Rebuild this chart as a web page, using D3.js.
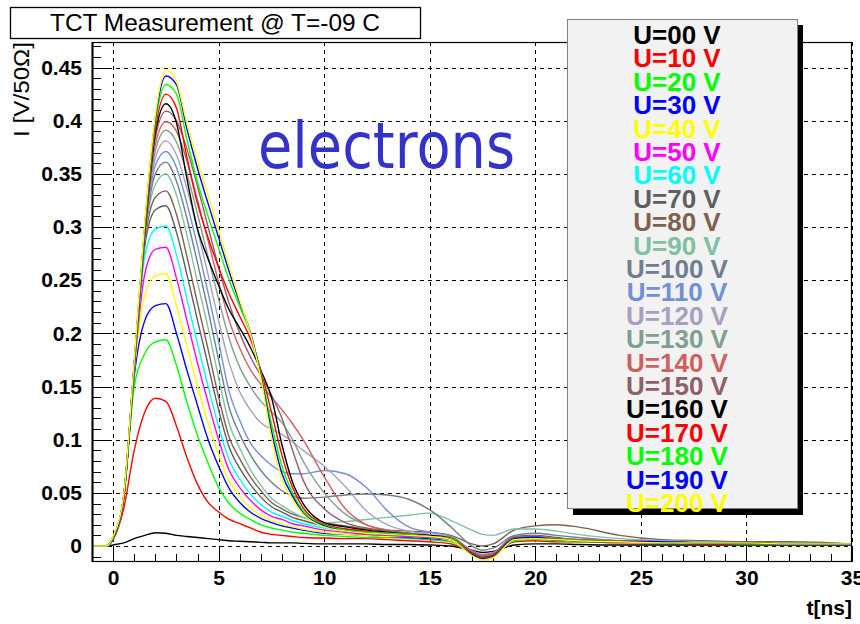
<!DOCTYPE html>
<html>
<head>
<meta charset="utf-8">
<script src="https://d3js.org/d3.v7.min.js"></script>
<style>
    body { margin: 0; background: #ffffff; }
    #tct-svg .font { font-family: "Liberation Sans", Arial, sans-serif; }
    #tct-svg .grid line { stroke: #000000; stroke-width: 1; stroke-dasharray: 4,4; shape-rendering: crispEdges; }
    #tct-svg .axis path { display: none; }
    #tct-svg .axis line { stroke: #000000; stroke-width: 1; shape-rendering: crispEdges; }
    #tct-svg .axis text { font-family: "Liberation Sans", Arial, sans-serif; font-size: 21px; font-weight: bold; fill: #000000; }
    #tct-svg .legend-label { font-size: 26px; font-weight: bold; }
    #tct-svg .trace { fill: none; stroke-width: 1.4; }
</style>
</head>
<body>
<script>
const SVG_WIDTH = 860;
const SVG_HEIGHT = 624;
const PLOT_LEFT = 92, PLOT_RIGHT = 852, PLOT_TOP = 42, PLOT_BOTTOM = 562;

const TITLE_TXT = "TCT Measurement @ T=-09 C";
const Y_LABEL_TXT = "I [V/50\u03A9]";
const X_LABEL_TXT = "t[ns]";
const NOTE_TXT = "electrons";

const X_TICKS = [0, 5, 10, 15, 20, 25, 30, 35];
const Y_TICKS = [0, 0.05, 0.1, 0.15, 0.2, 0.25, 0.3, 0.35, 0.4, 0.45];

// time axis of the traces (ns)
const T_NS = [-1, -0.3, 0, 0.5, 1, 1.5, 2, 2.5, 3, 3.5,
              4, 4.5, 5, 5.5, 6, 6.5, 7, 7.5, 8, 8.5,
              9, 10, 11, 12, 13, 14, 15, 16, 17, 17.5,
              18, 19, 20, 21, 22, 24, 26, 28, 30, 32,
              35];

// current I [V/50 Ohm] per bias voltage
const I_U000 = [0, 0, 0.001, 0.003, 0.007, 0.010, 0.0125, 0.012, 0.010, 0.009,
    0.008, 0.007, 0.006, 0.005, 0.0045, 0.004, 0.0035, 0.003, 0.003, 0.003,
    0.0025, 0.002, 0.002, 0.002, 0.0015, 0.0015, 0.001, 0.0, -0.004, -0.006,
    -0.005, 0.001, 0.002, 0.002, 0.0015, 0.001, 0.001, 0.001, 0.001, 0.001, 0.001];
const I_U010 = [0, 0, 0.006, 0.035, 0.09, 0.126, 0.139, 0.136, 0.113, 0.083,
    0.058, 0.041, 0.032, 0.025, 0.021, 0.017, 0.013, 0.011, 0.010, 0.009,
    0.008, 0.0075, 0.007, 0.007, 0.006, 0.005, 0.004, 0.002, -0.006, -0.009,
    -0.007, 0.004, 0.005, 0.004, 0.004, 0.003, 0.003, 0.002, 0.002, 0.002, 0.002];
const I_U020 = [0, 0, 0.007, 0.044, 0.15, 0.181, 0.192, 0.194, 0.170, 0.135,
    0.104, 0.078, 0.055, 0.040, 0.031, 0.025, 0.020, 0.017, 0.015, 0.013,
    0.012, 0.010, 0.009, 0.008, 0.008, 0.007, 0.006, 0.004, -0.006, -0.010,
    -0.008, 0.005, 0.006, 0.005, 0.004, 0.004, 0.003, 0.003, 0.002, 0.002, 0.002];
const I_U030 = [0, 0, 0.008, 0.045, 0.16, 0.212, 0.226, 0.228, 0.200, 0.165,
    0.132, 0.100, 0.075, 0.054, 0.041, 0.032, 0.026, 0.022, 0.019, 0.017,
    0.015, 0.012, 0.011, 0.010, 0.009, 0.008, 0.007, 0.005, -0.006, -0.010,
    -0.008, 0.006, 0.007, 0.006, 0.005, 0.004, 0.003, 0.003, 0.003, 0.002, 0.002];
const I_U040 = [0, 0, 0.008, 0.046, 0.165, 0.236, 0.254, 0.256, 0.226, 0.188,
    0.150, 0.116, 0.086, 0.061, 0.047, 0.036, 0.029, 0.024, 0.021, 0.018,
    0.016, 0.013, 0.011, 0.010, 0.009, 0.009, 0.008, 0.005, -0.007, -0.011,
    -0.009, 0.006, 0.007, 0.006, 0.005, 0.004, 0.004, 0.003, 0.003, 0.002, 0.002];
const I_U050 = [0, 0, 0.008, 0.046, 0.168, 0.256, 0.279, 0.281, 0.252, 0.212,
    0.172, 0.135, 0.100, 0.071, 0.055, 0.043, 0.034, 0.028, 0.025, 0.021,
    0.019, 0.015, 0.013, 0.011, 0.010, 0.009, 0.008, 0.006, -0.006, -0.010,
    -0.008, 0.007, 0.008, 0.006, 0.005, 0.004, 0.004, 0.003, 0.003, 0.002, 0.002];
const I_U060 = [0, 0, 0.008, 0.046, 0.17, 0.272, 0.298, 0.301, 0.274, 0.232,
    0.190, 0.150, 0.112, 0.081, 0.063, 0.049, 0.039, 0.032, 0.028, 0.024,
    0.021, 0.017, 0.014, 0.012, 0.011, 0.010, 0.009, 0.006, -0.006, -0.010,
    -0.008, 0.007, 0.008, 0.007, 0.006, 0.005, 0.004, 0.003, 0.003, 0.003, 0.002];
const I_U070 = [0, 0, 0.008, 0.046, 0.17, 0.282, 0.316, 0.320, 0.295, 0.255,
    0.212, 0.170, 0.128, 0.093, 0.073, 0.058, 0.046, 0.037, 0.032, 0.027,
    0.024, 0.019, 0.016, 0.014, 0.012, 0.011, 0.010, 0.007, -0.005, -0.009,
    -0.007, 0.009, 0.010, 0.008, 0.006, 0.005, 0.004, 0.004, 0.003, 0.003, 0.002];
const I_U080 = [0, 0, 0.008, 0.046, 0.17, 0.286, 0.328, 0.334, 0.312, 0.272,
    0.228, 0.185, 0.140, 0.102, 0.082, 0.065, 0.052, 0.041, 0.035, 0.030,
    0.027, 0.022, 0.019, 0.016, 0.015, 0.014, 0.013, 0.010, 0.002, 0.000,
    0.002, 0.015, 0.019, 0.020, 0.018, 0.010, 0.006, 0.005, 0.004, 0.004, 0.002];
const I_U090 = [0, 0, 0.008, 0.046, 0.17, 0.29, 0.340, 0.350, 0.330, 0.292,
    0.248, 0.205, 0.158, 0.115, 0.092, 0.072, 0.057, 0.045, 0.038, 0.032,
    0.027, 0.022, 0.023, 0.025, 0.027, 0.029, 0.031, 0.024, 0.015, 0.011,
    0.010, 0.016, 0.016, 0.014, 0.011, 0.007, 0.005, 0.004, 0.003, 0.003, 0.002];
const I_U100 = [0, 0, 0.008, 0.046, 0.17, 0.29, 0.350, 0.361, 0.343, 0.308,
    0.266, 0.222, 0.175, 0.130, 0.105, 0.086, 0.071, 0.060, 0.052, 0.047,
    0.045, 0.046, 0.048, 0.049, 0.048, 0.044, 0.034, 0.018, 0.000, -0.004,
    -0.002, 0.010, 0.012, 0.010, 0.008, 0.005, 0.004, 0.003, 0.003, 0.002, 0.002];
const I_U110 = [0, 0, 0.008, 0.046, 0.17, 0.29, 0.358, 0.371, 0.356, 0.322,
    0.282, 0.238, 0.192, 0.145, 0.118, 0.097, 0.085, 0.076, 0.070, 0.068,
    0.068, 0.071, 0.068, 0.055, 0.033, 0.018, 0.013, 0.009, -0.004, -0.008,
    -0.006, 0.008, 0.009, 0.007, 0.006, 0.005, 0.004, 0.003, 0.003, 0.002, 0.002];
const I_U120 = [0, 0, 0.008, 0.046, 0.17, 0.29, 0.365, 0.381, 0.368, 0.336,
    0.297, 0.255, 0.212, 0.172, 0.145, 0.128, 0.116, 0.110, 0.105, 0.098,
    0.090, 0.075, 0.056, 0.033, 0.020, 0.014, 0.011, 0.008, -0.005, -0.009,
    -0.007, 0.008, 0.009, 0.007, 0.006, 0.005, 0.004, 0.003, 0.003, 0.002, 0.002];
const I_U130 = [0, 0, 0.008, 0.046, 0.17, 0.29, 0.372, 0.391, 0.380, 0.350,
    0.312, 0.272, 0.232, 0.195, 0.168, 0.150, 0.136, 0.126, 0.116, 0.100,
    0.080, 0.050, 0.030, 0.020, 0.015, 0.012, 0.010, 0.008, -0.005, -0.009,
    -0.007, 0.008, 0.009, 0.007, 0.006, 0.005, 0.004, 0.003, 0.003, 0.002, 0.002];
const I_U140 = [0, 0, 0.008, 0.046, 0.17, 0.29, 0.378, 0.399, 0.390, 0.362,
    0.325, 0.287, 0.248, 0.212, 0.186, 0.166, 0.152, 0.140, 0.128, 0.115,
    0.100, 0.065, 0.035, 0.020, 0.015, 0.012, 0.010, 0.008, -0.005, -0.009,
    -0.007, 0.008, 0.009, 0.007, 0.006, 0.005, 0.004, 0.003, 0.003, 0.002, 0.002];
const I_U150 = [0, 0, 0.008, 0.046, 0.17, 0.29, 0.384, 0.409, 0.400, 0.373,
    0.338, 0.300, 0.262, 0.228, 0.200, 0.178, 0.160, 0.142, 0.120, 0.090,
    0.062, 0.035, 0.022, 0.017, 0.014, 0.012, 0.010, 0.008, -0.006, -0.010,
    -0.008, 0.008, 0.009, 0.007, 0.006, 0.005, 0.004, 0.003, 0.003, 0.002, 0.002];
const I_U160 = [0, 0, 0.008, 0.046, 0.17, 0.295, 0.388, 0.416, 0.398, 0.345,
    0.298, 0.270, 0.245, 0.222, 0.205, 0.187, 0.165, 0.140, 0.095, 0.060,
    0.040, 0.022, 0.018, 0.015, 0.013, 0.011, 0.010, 0.007, -0.007, -0.011,
    -0.009, 0.007, 0.008, 0.006, 0.005, 0.004, 0.004, 0.003, 0.003, 0.002, 0.002];
const I_U170 = [0, 0, 0.008, 0.046, 0.17, 0.298, 0.392, 0.425, 0.412, 0.365,
    0.322, 0.290, 0.262, 0.237, 0.216, 0.195, 0.165, 0.126, 0.085, 0.055,
    0.036, 0.021, 0.016, 0.014, 0.012, 0.011, 0.009, 0.007, -0.007, -0.011,
    -0.009, 0.007, 0.008, 0.006, 0.005, 0.004, 0.004, 0.003, 0.003, 0.002, 0.002];
const I_U180 = [0, 0, 0.008, 0.046, 0.17, 0.30, 0.398, 0.434, 0.425, 0.382,
    0.342, 0.310, 0.280, 0.250, 0.225, 0.200, 0.162, 0.115, 0.075, 0.050,
    0.033, 0.020, 0.015, 0.013, 0.012, 0.011, 0.009, 0.007, -0.008, -0.012,
    -0.010, 0.007, 0.008, 0.006, 0.005, 0.004, 0.004, 0.003, 0.003, 0.002, 0.002];
const I_U190 = [0, 0, 0.008, 0.046, 0.172, 0.302, 0.402, 0.442, 0.434, 0.392,
    0.355, 0.322, 0.290, 0.258, 0.229, 0.201, 0.160, 0.108, 0.068, 0.047,
    0.031, 0.019, 0.014, 0.012, 0.011, 0.010, 0.009, 0.006, -0.008, -0.012,
    -0.010, 0.007, 0.008, 0.006, 0.005, 0.004, 0.004, 0.003, 0.003, 0.002, 0.002];
const I_U200 = [0, 0, 0.009, 0.048, 0.175, 0.305, 0.405, 0.448, 0.437, 0.397,
    0.362, 0.330, 0.297, 0.263, 0.231, 0.200, 0.158, 0.102, 0.062, 0.044,
    0.030, 0.018, 0.014, 0.012, 0.011, 0.010, 0.009, 0.006, -0.009, -0.013,
    -0.011, 0.006, 0.007, 0.006, 0.005, 0.004, 0.003, 0.003, 0.003, 0.002, 0.002];

const SERIES = [I_U000, I_U010, I_U020, I_U030, I_U040, I_U050, I_U060, I_U070,
    I_U080, I_U090, I_U100, I_U110, I_U120, I_U130, I_U140, I_U150, I_U160,
    I_U170, I_U180, I_U190, I_U200];
const LEGEND_LABELS = ["U=00 V", "U=10 V", "U=20 V", "U=30 V", "U=40 V", "U=50 V",
    "U=60 V", "U=70 V", "U=80 V", "U=90 V", "U=100 V", "U=110 V", "U=120 V",
    "U=130 V", "U=140 V", "U=150 V", "U=160 V", "U=170 V", "U=180 V", "U=190 V",
    "U=200 V"];
const COLORS = ["#000000", "#ff0000", "#00ff00", "#0000ff", "#ffff00", "#ff00ff",
    "#00ffff", "#5f5f5f", "#80604f", "#7fc09f", "#6f7f8f", "#7090d8", "#a8a0c0",
    "#7f9f8f", "#d06060", "#906068", "#000000", "#ff0000", "#00ff00", "#0000ff",
    "#ffff00"];

var svg = d3.select("body")
    .append("svg")
    .attr("width", SVG_WIDTH)
    .attr("height", SVG_HEIGHT)
    .attr("id", "tct-svg");

svg.append("rect")
    .attr("width", SVG_WIDTH)
    .attr("height", SVG_HEIGHT)
    .attr("fill", "#ffffff");

var xScale = d3.scaleLinear()
    .domain([-1, 35])
    .range([PLOT_LEFT, PLOT_RIGHT]);
var yScale = d3.scaleLinear()
    .domain([-0.015, 0.474])
    .range([PLOT_BOTTOM, PLOT_TOP]);

// title box
svg.append("rect")
    .attr("x", 10.5).attr("y", 7.5)
    .attr("width", 410).attr("height", 31)
    .attr("fill", "#ffffff")
    .attr("stroke", "#000000")
    .attr("stroke-width", 1.3);
svg.append("text")
    .attr("x", 215)
    .attr("y", 31)
    .attr("text-anchor", "middle")
    .attr("font-size", 24)
    .attr("textLength", 330)
    .attr("lengthAdjust", "spacingAndGlyphs")
    .classed("font", true)
    .text(TITLE_TXT);

// grid
var grid = svg.append("g").classed("grid", true);
grid.selectAll(".vgrid")
    .data(X_TICKS)
    .enter()
    .append("line")
    .attr("x1", d => Math.round(xScale(d)) + 0.5)
    .attr("x2", d => Math.round(xScale(d)) + 0.5)
    .attr("y1", PLOT_TOP)
    .attr("y2", PLOT_BOTTOM);
grid.selectAll(".hgrid")
    .data(Y_TICKS)
    .enter()
    .append("line")
    .attr("x1", PLOT_LEFT)
    .attr("x2", PLOT_RIGHT)
    .attr("y1", d => Math.round(yScale(d)) + 0.5)
    .attr("y2", d => Math.round(yScale(d)) + 0.5);

// axes with ticks pointing inside the frame
var xMinor = d3.range(0, 36, 1);
svg.append("g")
    .classed("axis", true)
    .attr("transform", "translate(0," + PLOT_BOTTOM + ")")
    .call(d3.axisBottom(xScale).tickValues(xMinor).tickSize(-8).tickFormat(""));
svg.append("g")
    .classed("axis", true)
    .attr("transform", "translate(0," + PLOT_BOTTOM + ")")
    .call(d3.axisBottom(xScale).tickValues(X_TICKS).tickSize(-16).tickPadding(8)
        .tickFormat(d => d));

var yMinor = d3.range(-1, 48, 1).map(i => i / 100);
svg.append("g")
    .classed("axis", true)
    .attr("transform", "translate(" + PLOT_LEFT + ",0)")
    .call(d3.axisLeft(yScale).tickValues(yMinor).tickSize(-9).tickFormat(""));
svg.append("g")
    .classed("axis", true)
    .attr("transform", "translate(" + PLOT_LEFT + ",0)")
    .call(d3.axisLeft(yScale).tickValues(Y_TICKS).tickSize(-17).tickPadding(10)
        .tickFormat(d => +d.toFixed(2)));

// traces
svg.append("clipPath")
    .attr("id", "plot-clip")
    .append("rect")
    .attr("x", PLOT_LEFT).attr("y", PLOT_TOP)
    .attr("width", PLOT_RIGHT - PLOT_LEFT)
    .attr("height", PLOT_BOTTOM - PLOT_TOP);

var line = d3.line()
    .x((d, i) => xScale(T_NS[i]))
    .y(d => yScale(d))
    .curve(d3.curveMonotoneX);

svg.append("g")
    .attr("clip-path", "url(#plot-clip)")
    .selectAll("path")
    .data(SERIES)
    .enter()
    .append("path")
    .classed("trace", true)
    .attr("stroke", (d, i) => COLORS[i])
    .attr("d", line);

// frame
svg.append("rect")
    .attr("x", PLOT_LEFT + 0.5).attr("y", PLOT_TOP + 0.5)
    .attr("width", PLOT_RIGHT - PLOT_LEFT - 1)
    .attr("height", PLOT_BOTTOM - PLOT_TOP - 1)
    .attr("fill", "none")
    .attr("stroke", "#000000")
    .attr("stroke-width", 1.2);
svg.append("line")
    .attr("x1", PLOT_LEFT + 0.5).attr("x2", PLOT_LEFT + 0.5)
    .attr("y1", PLOT_TOP).attr("y2", PLOT_BOTTOM)
    .attr("stroke", "#000000")
    .attr("stroke-width", 2);

// axis titles
svg.append("text")
    .attr("transform", "translate(29," + PLOT_TOP + ") rotate(-90)")
    .attr("text-anchor", "end")
    .attr("font-size", 22)
    .attr("textLength", 95)
    .attr("lengthAdjust", "spacingAndGlyphs")
    .classed("font", true)
    .text(Y_LABEL_TXT);
svg.append("text")
    .attr("x", 852)
    .attr("y", 615)
    .attr("text-anchor", "end")
    .attr("font-size", 21)
    .attr("font-weight", "bold")
    .classed("font", true)
    .text(X_LABEL_TXT);

// note
svg.append("text")
    .attr("x", 258)
    .attr("y", 168)
    .attr("font-size", 64)
    .attr("textLength", 257)
    .attr("lengthAdjust", "spacingAndGlyphs")
    .attr("fill", "#3333cc")
    .attr("font-family", "'DejaVu Sans', sans-serif")
    .text(NOTE_TXT);

// legend
var legend = svg.append("g");
legend.append("rect")
    .attr("x", 573).attr("y", 25)
    .attr("width", 230).attr("height", 490)
    .attr("fill", "#000000");
legend.append("rect")
    .attr("x", 567.5).attr("y", 19.5)
    .attr("width", 230).attr("height", 489)
    .attr("fill", "#f2f2f2")
    .attr("stroke", "#808080")
    .attr("stroke-width", 1);
legend.selectAll(".legend-label")
    .data(LEGEND_LABELS)
    .enter()
    .append("text")
    .classed("legend-label font", true)
    .attr("x", 677)
    .attr("y", (d, i) => 44 + i * 23.4)
    .attr("text-anchor", "middle")
    .attr("fill", (d, i) => COLORS[i])
    .text(d => d);
</script>
</body>
</html>
